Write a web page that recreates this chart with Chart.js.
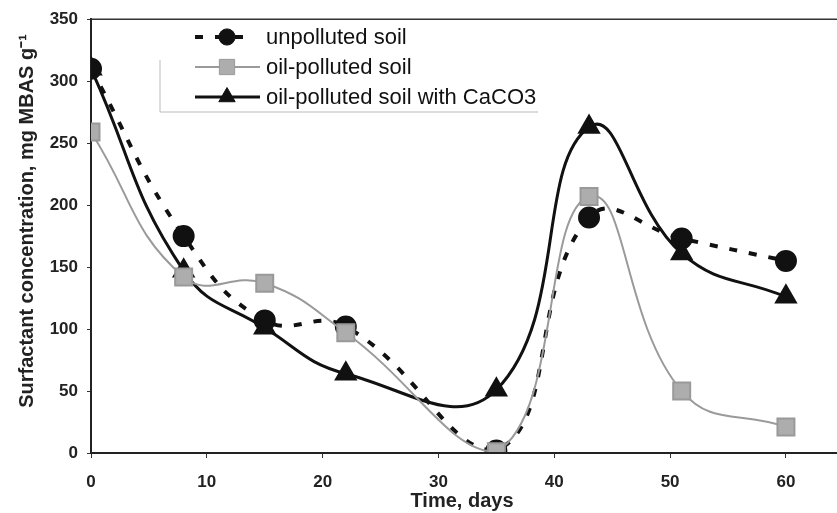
<!DOCTYPE html>
<html>
<head>
<meta charset="utf-8">
<script src="https://cdn.jsdelivr.net/npm/chart.js@4/dist/chart.umd.min.js"></script>
<style>
  html, body { margin: 0; padding: 0; background: #fff; }
  #wrap { width: 837px; height: 513px; position: relative; }
</style>
</head>
<body>
<div id="wrap"><canvas id="chart" width="837" height="513"></canvas></div>
<script>
// sampling days
const days = [0, 8, 15, 22, 35, 43, 51, 60];
// surfactant concentration, mg MBAS g-1
const unpolluted = [310, 175, 107, 102, 2, 190, 173, 155];
const oilPolluted = [259, 142, 137, 97, 1, 207, 50, 21];
const oilCaCO3 = [310, 147, 101, 64, 51, 263, 161, 126];
const seriesNames = ['unpolluted soil', 'oil-polluted soil', 'oil-polluted soil with CaCO3'];
const xTicks = [0, 10, 20, 30, 40, 50, 60];
const yTicks = [0, 50, 100, 150, 200, 250, 300, 350];
const xTitle = 'Time, days';
const yTitle = 'Surfactant concentration, mg MBAS g\u207B\u00B9';

const FONT = "'Liberation Sans', Arial, sans-serif";

function toPoints(vals) {
    return days.map((d, i) => ({ x: d, y: vals[i] }));
}

// legend box, top frame line and axis titles drawn by hand
const legendPlugin = {
    id: 'insideLegend',
    afterDraw(chart) {
        const ctx = chart.ctx;
        const area = chart.chartArea;
        ctx.save();
        ctx.strokeStyle = '#333';
        ctx.lineWidth = 1.5;
        ctx.beginPath();
        ctx.moveTo(area.left, area.top);
        ctx.lineTo(chart.width, area.top);
        ctx.stroke();
        // bottom axis runs to the edge as well
        ctx.strokeStyle = '#222';
        ctx.lineWidth = 2;
        ctx.beginPath();
        ctx.moveTo(area.left, area.bottom);
        ctx.lineTo(chart.width, area.bottom);
        ctx.stroke();
        // legend frame
        ctx.strokeStyle = '#bbb';
        ctx.lineWidth = 1;
        ctx.beginPath();
        ctx.moveTo(160, 60);
        ctx.lineTo(160, 112);
        ctx.lineTo(538, 112);
        ctx.stroke();
        const rows = [37, 67, 97];
        chart.data.datasets.forEach((ds, i) => {
            const y = rows[i];
            ctx.save();
            ctx.strokeStyle = ds.borderColor;
            ctx.lineWidth = ds.borderWidth;
            ctx.setLineDash(ds.borderDash || []);
            ctx.beginPath();
            ctx.moveTo(195, y);
            ctx.lineTo(i === 0 ? 243 : 260, y);
            ctx.stroke();
            ctx.restore();
            ctx.fillStyle = ds.pointBackgroundColor;
            ctx.strokeStyle = ds.pointBorderColor;
            ctx.lineWidth = 1;
            Chart.helpers.drawPoint(ctx, {
                pointStyle: ds.pointStyle,
                radius: ds.pointRadius * 0.9,
                rotation: 0,
                borderWidth: 1
            }, 227, y);
            ctx.fillStyle = '#111';
            ctx.font = '22px ' + FONT;
            ctx.textBaseline = 'middle';
            ctx.textAlign = 'left';
            ctx.fillText(seriesNames[i], 266, y + 1);
        });
        // axis titles
        ctx.fillStyle = '#222';
        ctx.font = 'bold 20px ' + FONT;
        ctx.textAlign = 'center';
        ctx.textBaseline = 'middle';
        ctx.fillText(xTitle, 462, 501);
        ctx.translate(27, 221);
        ctx.rotate(-Math.PI / 2);
        ctx.fillText(yTitle, 0, 0);
        ctx.restore();
    }
};

const ctx = document.getElementById('chart').getContext('2d');
new Chart(ctx, {
    type: 'line',
    data: {
        datasets: [{
            label: seriesNames[0],
            data: toPoints(unpolluted),
            borderColor: '#111',
            borderWidth: 4,
            borderDash: [8, 12],
            pointStyle: 'circle',
            pointRadius: 9,
            pointBackgroundColor: '#111',
            pointBorderColor: '#111',
            tension: 0.45,
            order: 1
        }, {
            label: seriesNames[1],
            data: toPoints(oilPolluted),
            borderColor: '#9a9a9a',
            borderWidth: 2,
            pointStyle: 'rect',
            pointRadius: 12,
            pointBackgroundColor: '#adadad',
            pointBorderColor: '#999',
            tension: 0.45,
            order: 0
        }, {
            label: seriesNames[2],
            data: toPoints(oilCaCO3),
            borderColor: '#111',
            borderWidth: 3,
            pointStyle: 'triangle',
            pointRadius: 10.5,
            pointBackgroundColor: '#111',
            pointBorderColor: '#111',
            tension: 0.45,
            order: 2
        }]
    },
    options: {
        responsive: false,
        animation: false,
        layout: { padding: { top: 17, right: 0, left: 0, bottom: 0 } },
        plugins: {
            legend: { display: false },
            tooltip: { enabled: false }
        },
        scales: {
            x: {
                type: 'linear',
                min: 0,
                max: 63.2,
                afterFit: s => { s.height = 60; },
                afterBuildTicks: s => { s.ticks = xTicks.map(v => ({ value: v })); },
                grid: { drawOnChartArea: false, tickLength: 5, color: '#333' },
                border: { color: '#222', width: 2 },
                ticks: {
                    padding: 14,
                    color: '#222',
                    font: { family: FONT, size: 17, weight: 'bold' }
                }
            },
            y: {
                min: 0,
                max: 350,
                afterFit: s => { s.width = 91; },
                afterBuildTicks: s => { s.ticks = yTicks.map(v => ({ value: v })); },
                grid: { drawOnChartArea: false, tickLength: 4, color: '#333' },
                border: { color: '#222', width: 2 },
                ticks: {
                    padding: 9,
                    color: '#222',
                    font: { family: FONT, size: 17, weight: 'bold' }
                }
            }
        }
    },
    plugins: [legendPlugin]
});
</script>
</body>
</html>
